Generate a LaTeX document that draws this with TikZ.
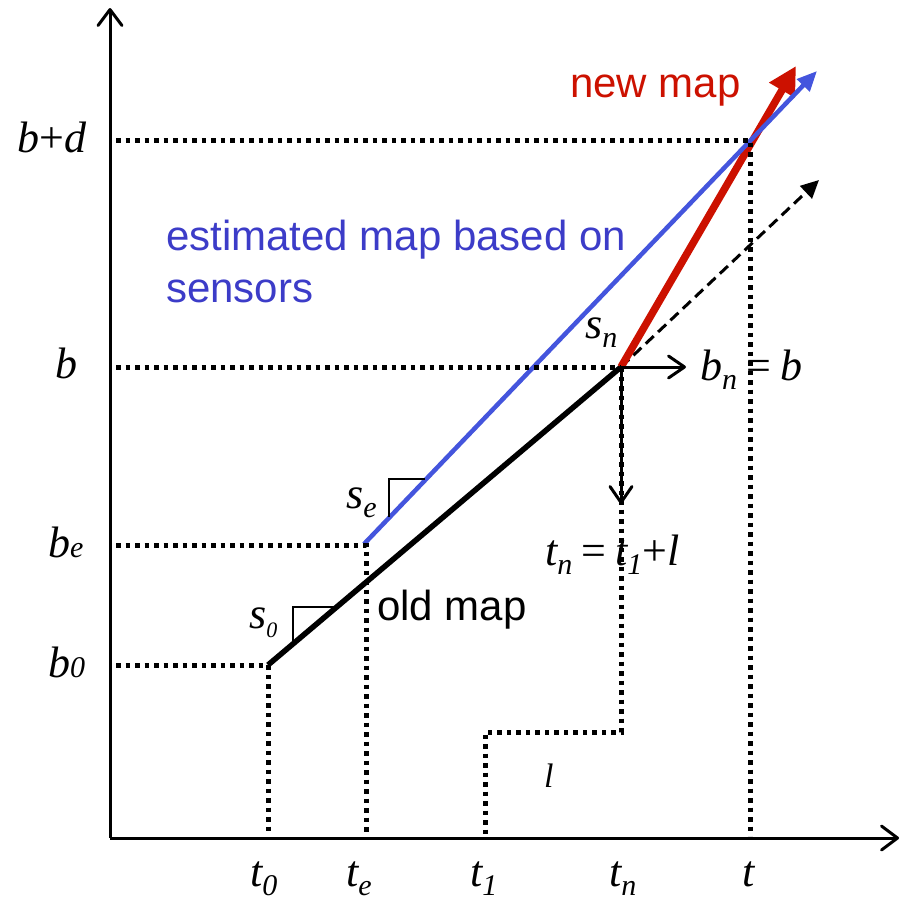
\documentclass[tikz,border=0pt]{standalone}
\usepackage{fontspec}
\setmainfont{Liberation Serif}
\newfontfamily\sansf{Liberation Sans}
\usetikzlibrary{arrows.meta}
\definecolor{mapred}{HTML}{CC1100}
\definecolor{mapblue}{HTML}{4455DD}
\definecolor{txtblue}{HTML}{3C3CC8}
\newcommand{\Lsub}[1]{\raisebox{-9pt}{\fontsize{30}{30}\selectfont\itshape #1}}
\newcommand{\Bsub}[1]{{\fontsize{30}{30}\selectfont\itshape #1}}
\newcommand{\Eq}{\hspace{9pt}{\upshape=}\hspace{9pt}}
\begin{document}
\begin{tikzpicture}[x=1pt,y=-1pt,
  axis/.style={line width=3pt,-{Straight Barb[length=16pt,width=24pt,line cap=round,line join=round]}},
  smallarrow/.style={line width=3pt,-{Straight Barb[length=16pt,width=22pt,line cap=round,line join=round]}},
  dotline/.style={line width=5pt,dash pattern=on 4.5pt off 5pt},
  slopetri/.style={line width=1.6pt},
  mathlbl/.style={anchor=base west,inner sep=0pt,font=\fontsize{44}{44}\selectfont\itshape},
  sanslbl/.style={anchor=base west,inner sep=0pt,font=\sansf\fontsize{42}{52}\selectfont}
]
\useasboundingbox (0,0) rectangle (901,906);
% key points
\coordinate (O) at (110,838);
\coordinate (ytop) at (110,8);
\coordinate (xend) at (899,838);
\coordinate (p0) at (268,665);
\coordinate (pe) at (364,544);
\coordinate (pn) at (621,367);
\coordinate (pt) at (750,140);
\coordinate (btip) at (817,71);
\coordinate (rtip) at (796,66);
\coordinate (dtip) at (819,180);
\coordinate (bnarrow) at (686,367);
\coordinate (tnarrow) at (621,504);
% axes
\draw[axis] (O) -- (ytop);
\draw[axis] (O) -- (xend);
% maps
\draw[line width=3pt,dash pattern=on 11pt off 6pt,-{Triangle[length=18pt,width=17pt]}] (pn) -- (dtip);
\draw[line width=5.5pt] (p0) -- (pn);
\draw[mapred,line width=7.5pt,-{Triangle[length=28pt,width=28pt]}] (pn) -- (rtip);
\draw[mapblue,line width=4.5pt,-{Triangle[length=20pt,width=17pt]}] (pe) -- (btip);
% dotted guides
\draw[dotline] (116,140) -- (pt) -- (750,836);
\draw[dotline] (116,367) -- (pn);
\draw[dotline] (pn) -- (621,732) -- (485,732) -- (485,836);
\draw[dotline] (116,545) -- (366,545) -- (366,836);
\draw[dotline] (116,665) -- (p0) -- (268,836);
% arrows at s_n
\draw[smallarrow] (pn) -- (bnarrow);
\draw[smallarrow] (pn) -- (tnarrow);
% slope triangles
\draw[slopetri] (389,517) -- (389,479) -- (425,479);
\draw[slopetri] (293,644) -- (293,607) -- (337,607);
% axis labels
\node[mathlbl] (lbd) at (17,152) {b\upshape+\itshape d};
\node[mathlbl] (lb) at (55,378) {b};
\node[mathlbl] (lbe) at (48,557) {b\Bsub{e}};
\node[mathlbl] (lb0) at (48,677) {b\Bsub{0}};
\node[mathlbl] (lt0) at (250,886) {t\Lsub{0}};
\node[mathlbl] (lte) at (346,886) {t\Lsub{e}};
\node[mathlbl] (lt1) at (470,886) {t\Lsub{1}};
\node[mathlbl] (ltn) at (609,886) {t\Lsub{n}};
\node[mathlbl] (lt) at (742,886) {t};
% other math labels
\node[mathlbl] (lbn) at (700,380) {b\Lsub{n}\Eq b};
\node[mathlbl] (ltn1) at (545,565) {t\Lsub{n}\Eq t\Lsub{1}\upshape+\itshape l};
\node[mathlbl,font=\fontsize{34}{34}\selectfont\itshape] (ll) at (544,787) {l};
\node[mathlbl] (lsn) at (585,338) {s\Lsub{n}};
\node[mathlbl] (lse) at (346,508) {s\Lsub{e}};
\node[mathlbl] (ls0) at (249,628) {s\Lsub{\fontsize{22}{22}\selectfont 0}};
% text labels
\node[sanslbl,text=mapred] (newmap) at (570,97) {new map};
\node[sanslbl,text=txtblue,align=left,anchor=north west] (estmap) at (166,220) {estimated map based on\\sensors};
\node[sanslbl] (oldmap) at (377,620) {old map};
\end{tikzpicture}
\end{document}
